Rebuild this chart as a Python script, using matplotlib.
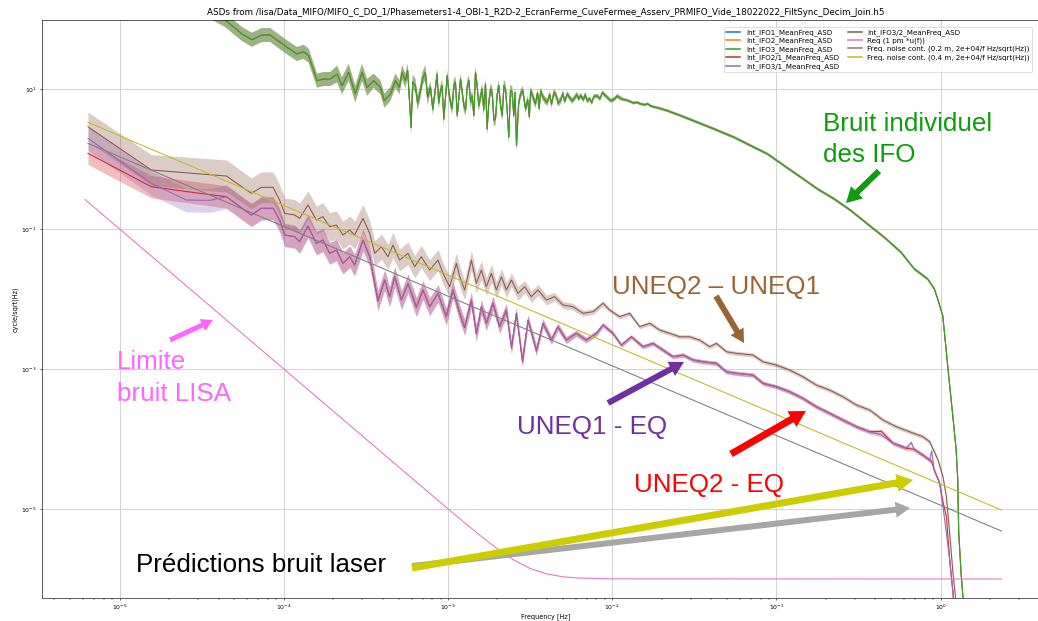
import numpy as np
import matplotlib.pyplot as plt
from matplotlib.patches import FancyArrow
from matplotlib.transforms import IdentityTransform
from matplotlib.ticker import NullLocator

W, H, DPI = 1038, 621, 55

title = ("ASDs from /lisa/Data_MIFO/MIFO_C_DO_1/Phasemeters1-4_OBI-1_R2D-2_EcranFerme_"
         "CuveFermee_Asserv_PRMIFO_Vide_18022022_FiltSync_Decim_Join.h5")

# (log10 f [Hz], log10 ASD [cycle/sqrt(Hz)], band half width [decades])
ifo3 = [
    (-5.193, 3.10, 0.10), (-4.807, 2.55, 0.10), (-4.360, 1.99, 0.10), (-4.255, 1.786, 0.10),
    (-4.195, 1.704, 0.10), (-4.134, 1.771, 0.10), (-4.083, 1.771, 0.10), (-3.981, 1.596, 0.10),
    (-3.920, 1.500, 0.10), (-3.880, 1.533, 0.10), (-3.849, 1.476, 0.10), (-3.798, 1.119, 0.10),
    (-3.758, 1.143, 0.10), (-3.717, 1.143, 0.10), (-3.676, 1.214, 0.12), (-3.646, 1.047, 0.12),
    (-3.605, 1.238, 0.12), (-3.565, 0.929, 0.12), (-3.524, 1.238, 0.12), (-3.493, 1.024, 0.12),
    (-3.453, 1.119, 0.10), (-3.412, 1.024, 0.10), (-3.388, 0.833, 0.10), (-3.351, 0.929, 0.10),
    (-3.321, 1.119, 0.10), (-3.296, 1.024, 0.10), (-3.280, 1.238, 0.10), (-3.260, 1.119, 0.10),
    (-3.246, 1.262, 0.10), (-3.225, 0.453, 0.10), (-3.199, 1.047, 0.10), (-3.168, 0.976, 0.10),
    (-3.138, 1.238, 0.10), (-3.107, 1.024, 0.08), (-3.093, 0.714, 0.08), (-3.067, 1.214, 0.08),
    (-3.046, 0.976, 0.08), (-3.026, 0.571, 0.08), (-3.005, 1.190, 0.08), (-2.985, 0.810, 0.08),
    (-2.965, 1.047, 0.08), (-2.944, 0.619, 0.08), (-2.924, 1.143, 0.08), (-2.904, 0.761, 0.08),
    (-2.883, 1.047, 0.08), (-2.863, 0.810, 0.08), (-2.833, 1.238, 0.08), (-2.813, 0.761, 0.08),
    (-2.792, 1.000, 0.08), (-2.762, 0.429, 0.08), (-2.741, 1.000, 0.08), (-2.711, 0.571, 0.08),
    (-2.691, 1.047, 0.08), (-2.670, 0.619, 0.08), (-2.650, 1.000, 0.08), (-2.630, 0.310, 0.08),
    (-2.609, 0.953, 0.08), (-2.583, 0.190, 0.08), (-2.558, 0.929, 0.06), (-2.528, 0.714, 0.06),
    (-2.497, 0.976, 0.06), (-2.467, 0.786, 0.06), (-2.436, 0.976, 0.05), (-2.396, 0.810, 0.05),
    (-2.355, 0.953, 0.05), (-2.315, 0.833, 0.05), (-2.274, 0.929, 0.04), (-2.234, 0.857, 0.04),
    (-2.193, 0.904, 0.04), (-2.152, 0.833, 0.04), (-2.112, 0.896, 0.03), (-2.051, 0.929, 0.03),
    (-2.010, 0.833, 0.03), (-1.949, 0.867, 0.03), (-1.888, 0.819, 0.02), (-1.827, 0.786, 0.02),
    (-1.766, 0.757, 0.02), (-1.664, 0.690, 0.02), (-1.583, 0.619, 0.02), (-1.481, 0.524, 0.02),
    (-1.380, 0.429, 0.02), (-1.258, 0.310, 0.02), (-1.156, 0.190, 0.02), (-1.054, 0.071, 0.02),
    (-0.953, -0.095, 0.02), (-0.851, -0.261, 0.02), (-0.749, -0.429, 0.02), (-0.648, -0.571, 0.02),
    (-0.546, -0.738, 0.02), (-0.445, -0.929, 0.02), (-0.343, -1.119, 0.02), (-0.241, -1.333, 0.02),
    (-0.160, -1.571, 0.02), (-0.079, -1.714, 0.02), (-0.038, -1.857, 0.02), (-0.018, -2.000, 0.02),
    (0.013, -2.238, 0.02), (0.033, -2.714, 0.02), (0.053, -3.190, 0.02), (0.074, -3.667, 0.02),
    (0.094, -4.143, 0.02), (0.104, -4.571, 0.02), (0.110, -5.330, 0.02), (0.124, -5.900, 0.02),
    (0.137, -6.290, 0.02), (0.160, -7.000, 0.02),
]
# the finer spikes of the IFO3 trace between 6e-4 Hz and 2e-2 Hz
ifo3_spikes = [
    (-3.215, 1.10, 0.10), (-3.185, 0.80, 0.10), (-3.155, 1.15, 0.10), (-3.125, 0.88, 0.10),
    (-3.080, 0.95, 0.08), (-3.057, 0.80, 0.08), (-3.036, 1.05, 0.08), (-3.015, 0.90, 0.08),
    (-2.995, 0.95, 0.08), (-2.975, 0.72, 0.08), (-2.955, 1.10, 0.08), (-2.935, 0.85, 0.08),
    (-2.915, 0.98, 0.08), (-2.893, 0.70, 0.08), (-2.873, 1.12, 0.08), (-2.853, 0.90, 0.08),
    (-2.843, 0.62, 0.08), (-2.823, 1.05, 0.08), (-2.803, 0.88, 0.08), (-2.783, 0.70, 0.08),
    (-2.772, 1.08, 0.08), (-2.752, 0.80, 0.08), (-2.731, 0.95, 0.08), (-2.721, 0.55, 0.08),
    (-2.701, 0.92, 0.08), (-2.681, 0.78, 0.08), (-2.660, 1.05, 0.08), (-2.640, 0.70, 0.08),
    (-2.620, 0.98, 0.08), (-2.600, 0.62, 0.08), (-2.592, 0.95, 0.08), (-2.570, 0.80, 0.07),
    (-2.545, 0.98, 0.06), (-2.515, 0.85, 0.06), (-2.505, 0.60, 0.06), (-2.485, 0.90, 0.06),
    (-2.455, 0.95, 0.05), (-2.445, 0.72, 0.05), (-2.425, 0.90, 0.05), (-2.410, 0.84, 0.05),
    (-2.380, 0.92, 0.05), (-2.370, 0.78, 0.05), (-2.340, 0.90, 0.05), (-2.330, 0.80, 0.05),
    (-2.300, 0.94, 0.04), (-2.290, 0.82, 0.04), (-2.260, 0.88, 0.04), (-2.245, 0.83, 0.04),
    (-2.215, 0.92, 0.04), (-2.205, 0.86, 0.04), (-2.175, 0.85, 0.04), (-2.165, 0.92, 0.04),
    (-2.135, 0.86, 0.03), (-2.125, 0.80, 0.03), (-2.090, 0.90, 0.03), (-2.075, 0.86, 0.03),
    (-2.060, 0.95, 0.03), (-2.030, 0.88, 0.03), (-1.990, 0.85, 0.03), (-1.970, 0.90, 0.03),
    (-1.930, 0.85, 0.02), (-1.910, 0.84, 0.02), (-1.870, 0.80, 0.02), (-1.850, 0.81, 0.02),
    (-1.800, 0.775, 0.02), (-1.785, 0.79, 0.02), (-1.740, 0.74, 0.02), (-1.720, 0.73, 0.02),
]
# IFO1 and IFO2 lie right under IFO3 on the plot
ifo1 = ifo3 + ifo3_spikes
ifo2 = ifo3 + ifo3_spikes
ifo3 = ifo3 + ifo3_spikes

ifo21 = [
    (-5.193, 0.081, 0.16), (-4.807, -0.396, 0.16), (-4.513, -0.490, 0.16), (-4.350, -0.539, 0.16),
    (-4.198, -0.800, 0.16), (-4.137, -0.704, 0.16), (-4.066, -0.704, 0.16), (-4.026, -0.871, 0.16),
    (-3.995, -1.086, 0.16), (-3.934, -1.110, 0.16), (-3.904, -1.181, 0.16), (-3.853, -0.957, 0.16),
    (-3.802, -1.204, 0.16), (-3.762, -1.157, 0.16), (-3.721, -1.347, 0.15), (-3.680, -1.300, 0.15),
    (-3.640, -1.490, 0.15), (-3.599, -1.396, 0.15), (-3.569, -1.514, 0.15), (-3.518, -1.157, 0.15),
    (-3.477, -1.396, 0.14), (-3.427, -2.030, 0.14), (-3.386, -1.729, 0.14), (-3.356, -1.967, 0.14),
    (-3.325, -1.681, 0.14), (-3.284, -2.014, 0.13), (-3.244, -1.776, 0.13), (-3.193, -2.120, 0.13),
    (-3.153, -1.871, 0.13), (-3.112, -2.110, 0.12), (-3.061, -1.919, 0.12), (-3.011, -2.253, 0.12),
    (-2.970, -1.871, 0.11), (-2.929, -2.204, 0.11), (-2.899, -2.410, 0.11), (-2.858, -2.014, 0.11),
    (-2.828, -2.500, 0.11), (-2.797, -2.110, 0.10), (-2.767, -2.347, 0.10), (-2.726, -2.061, 0.10),
    (-2.686, -2.396, 0.09), (-2.645, -2.157, 0.09), (-2.614, -2.700, 0.09), (-2.584, -2.204, 0.08),
    (-2.547, -2.900, 0.08), (-2.513, -2.300, 0.07), (-2.462, -2.740, 0.07), (-2.422, -2.347, 0.06),
    (-2.371, -2.586, 0.06), (-2.331, -2.396, 0.05), (-2.280, -2.586, 0.05), (-2.219, -2.490, 0.04),
    (-2.158, -2.586, 0.04), (-2.097, -2.490, 0.04), (-2.056, -2.371, 0.03), (-1.996, -2.490, 0.03),
    (-1.945, -2.657, 0.03), (-1.884, -2.539, 0.03), (-1.813, -2.681, 0.03), (-1.752, -2.633, 0.03),
    (-1.691, -2.729, 0.03), (-1.630, -2.824, 0.03), (-1.569, -2.800, 0.03), (-1.508, -2.871, 0.03),
    (-1.447, -2.896, 0.03), (-1.366, -2.919, 0.03), (-1.305, -3.039, 0.03), (-1.245, -3.061, 0.03),
    (-1.143, -3.086, 0.03), (-1.082, -3.204, 0.03), (-1.001, -3.253, 0.03), (-0.920, -3.324, 0.03),
    (-0.839, -3.419, 0.03), (-0.757, -3.539, 0.03), (-0.676, -3.633, 0.03), (-0.595, -3.729, 0.03),
    (-0.513, -3.824, 0.03), (-0.432, -3.896, 0.03), (-0.361, -3.890, 0.03), (-0.290, -4.060, 0.03),
    (-0.210, -4.130, 0.03), (-0.180, -4.140, 0.03), (-0.160, -4.150, 0.03), (-0.108, -4.230, 0.03),
    (-0.067, -4.300, 0.03), (-0.055, -4.320, 0.03), (-0.040, -4.440, 0.03), (-0.006, -4.633, 0.03),
    (0.014, -4.900, 0.03), (0.035, -5.110, 0.03), (0.055, -5.729, 0.03), (0.075, -6.200, 0.03),
    (0.100, -7.000, 0.03),
]

ifo31 = [
    (-5.193, 0.296, 0.17), (-4.807, -0.347, 0.17), (-4.594, -0.586, 0.17), (-4.450, -0.590, 0.17),
    (-4.350, -0.539, 0.17), (-4.198, -0.800, 0.17), (-4.137, -0.704, 0.17), (-4.066, -0.704, 0.17),
    (-4.026, -0.871, 0.17), (-3.995, -1.086, 0.17), (-3.934, -1.110, 0.17), (-3.904, -1.181, 0.17),
    (-3.853, -0.957, 0.17), (-3.802, -1.204, 0.17), (-3.762, -1.157, 0.17), (-3.721, -1.347, 0.16),
    (-3.680, -1.300, 0.16), (-3.640, -1.490, 0.16), (-3.599, -1.396, 0.16), (-3.569, -1.514, 0.16),
    (-3.518, -1.157, 0.16), (-3.477, -1.396, 0.15), (-3.427, -2.014, 0.15), (-3.386, -1.729, 0.15),
    (-3.356, -1.967, 0.15), (-3.325, -1.681, 0.15), (-3.284, -2.014, 0.14), (-3.244, -1.776, 0.14),
    (-3.193, -2.110, 0.14), (-3.153, -1.871, 0.14), (-3.112, -2.110, 0.13), (-3.061, -1.919, 0.13),
    (-3.011, -2.253, 0.13), (-2.970, -1.871, 0.12), (-2.929, -2.204, 0.12), (-2.899, -2.396, 0.12),
    (-2.858, -2.014, 0.12), (-2.828, -2.490, 0.12), (-2.797, -2.110, 0.11), (-2.767, -2.347, 0.11),
    (-2.726, -2.061, 0.11), (-2.686, -2.396, 0.10), (-2.645, -2.157, 0.10), (-2.614, -2.681, 0.10),
    (-2.584, -2.204, 0.09), (-2.547, -2.871, 0.09), (-2.513, -2.300, 0.08), (-2.462, -2.729, 0.08),
    (-2.422, -2.347, 0.07), (-2.371, -2.586, 0.06), (-2.331, -2.396, 0.06), (-2.280, -2.586, 0.05),
    (-2.219, -2.490, 0.05), (-2.158, -2.586, 0.04), (-2.097, -2.490, 0.04), (-2.056, -2.371, 0.04),
    (-1.996, -2.490, 0.03), (-1.945, -2.657, 0.03), (-1.884, -2.539, 0.03), (-1.813, -2.681, 0.03),
    (-1.752, -2.633, 0.03), (-1.691, -2.729, 0.03), (-1.630, -2.824, 0.03), (-1.569, -2.800, 0.03),
    (-1.508, -2.871, 0.03), (-1.447, -2.896, 0.03), (-1.366, -2.919, 0.03), (-1.305, -3.039, 0.03),
    (-1.245, -3.061, 0.03), (-1.143, -3.086, 0.03), (-1.082, -3.204, 0.03), (-1.001, -3.253, 0.03),
    (-0.920, -3.324, 0.03), (-0.839, -3.419, 0.03), (-0.757, -3.539, 0.03), (-0.676, -3.633, 0.03),
    (-0.595, -3.729, 0.03), (-0.513, -3.824, 0.03), (-0.432, -3.896, 0.03), (-0.361, -3.943, 0.03),
    (-0.290, -4.060, 0.03), (-0.210, -4.130, 0.03), (-0.180, -4.050, 0.03), (-0.160, -4.150, 0.03),
    (-0.108, -4.230, 0.03), (-0.067, -4.300, 0.03), (-0.055, -4.170, 0.03), (-0.040, -4.440, 0.03),
    (-0.006, -4.633, 0.03), (0.014, -4.967, 0.03), (0.035, -5.347, 0.03), (0.055, -5.729, 0.03),
    (0.075, -6.200, 0.03), (0.100, -7.000, 0.03),
]

ifo32 = [
    (-5.193, 0.461, 0.21), (-4.807, -0.157, 0.22), (-4.350, -0.243, 0.23), (-4.198, -0.490, 0.22),
    (-4.137, -0.404, 0.22), (-4.066, -0.404, 0.22), (-4.026, -0.586, 0.22), (-3.995, -0.776, 0.22),
    (-3.934, -0.800, 0.22), (-3.904, -0.847, 0.22), (-3.853, -0.657, 0.20), (-3.802, -0.871, 0.20),
    (-3.762, -0.824, 0.20), (-3.721, -0.967, 0.20), (-3.680, -0.943, 0.20), (-3.640, -1.086, 0.20),
    (-3.599, -1.014, 0.20), (-3.569, -1.086, 0.20), (-3.518, -0.847, 0.20), (-3.477, -1.061, 0.18),
    (-3.447, -1.347, 0.18), (-3.406, -1.253, 0.18), (-3.366, -1.396, 0.18), (-3.336, -1.229, 0.18),
    (-3.295, -1.443, 0.16), (-3.244, -1.347, 0.16), (-3.203, -1.539, 0.16), (-3.163, -1.396, 0.16),
    (-3.112, -1.586, 0.15), (-3.061, -1.443, 0.15), (-3.031, -1.633, 0.15), (-2.990, -1.824, 0.15),
    (-2.949, -1.490, 0.15), (-2.929, -1.681, 0.15), (-2.899, -1.871, 0.14), (-2.858, -1.443, 0.14),
    (-2.828, -1.776, 0.14), (-2.797, -1.586, 0.13), (-2.767, -1.824, 0.13), (-2.736, -1.633, 0.13),
    (-2.706, -1.871, 0.12), (-2.675, -1.681, 0.12), (-2.645, -1.871, 0.11), (-2.614, -1.729, 0.10),
    (-2.574, -1.919, 0.10), (-2.533, -1.824, 0.09), (-2.493, -1.967, 0.08), (-2.452, -1.871, 0.08),
    (-2.401, -2.014, 0.07), (-2.351, -1.967, 0.06), (-2.300, -2.086, 0.05), (-2.239, -2.110, 0.05),
    (-2.178, -2.204, 0.04), (-2.117, -2.181, 0.04), (-2.056, -2.061, 0.04), (-2.016, -2.157, 0.03),
    (-1.955, -2.253, 0.03), (-1.894, -2.204, 0.03), (-1.833, -2.396, 0.03), (-1.772, -2.347, 0.03),
    (-1.711, -2.443, 0.03), (-1.650, -2.490, 0.03), (-1.589, -2.539, 0.03), (-1.529, -2.539, 0.03),
    (-1.468, -2.586, 0.03), (-1.407, -2.681, 0.03), (-1.366, -2.633, 0.03), (-1.305, -2.753, 0.03),
    (-1.245, -2.776, 0.03), (-1.143, -2.800, 0.03), (-1.082, -2.896, 0.03), (-1.001, -2.943, 0.03),
    (-0.920, -3.014, 0.03), (-0.839, -3.110, 0.03), (-0.757, -3.229, 0.03), (-0.676, -3.300, 0.03),
    (-0.595, -3.396, 0.03), (-0.513, -3.514, 0.03), (-0.432, -3.586, 0.03), (-0.351, -3.729, 0.03),
    (-0.270, -3.824, 0.03), (-0.189, -3.896, 0.03), (-0.108, -3.967, 0.03), (-0.067, -4.039, 0.03),
    (-0.016, -4.300, 0.03), (0.014, -4.539, 0.03), (0.035, -4.824, 0.03), (0.055, -5.347, 0.03),
    (0.075, -5.919, 0.03), (0.092, -6.300, 0.03), (0.120, -7.000, 0.03),
]

# requirement and laser frequency noise predictions: (log10 f, log10 ASD)
req = [(-5.211, -0.578), (-4.0, -3.0), (-3.2, -4.6), (-3.0, -4.998), (-2.9, -5.195),
       (-2.8, -5.387), (-2.7, -5.568), (-2.6, -5.728), (-2.5, -5.849), (-2.4, -5.927),
       (-2.3, -5.968), (-2.2, -5.987), (-2.0, -5.997), (0.372, -6.0)]
laser_02m = [(-5.193, 0.224), (0.370, -5.314)]
laser_04m = [(-5.193, 0.524), (0.370, -5.014)]

measured = [
    ("Int_IFO1_MeanFreq_ASD", ifo1, "C0"),
    ("Int_IFO2_MeanFreq_ASD", ifo2, "C1"),
    ("Int_IFO3_MeanFreq_ASD", ifo3, "C2"),
    ("Int_IFO2/1_MeanFreq_ASD", ifo21, "C3"),
    ("Int_IFO3/1_MeanFreq_ASD", ifo31, "C4"),
    ("Int_IFO3/2_MeanFreq_ASD", ifo32, "C5"),
]
models = [
    ("Req (1 pm *u(f))", req, "C6"),
    ("Freq. noise cont. (0.2 m, 2e+04/f Hz/sqrt(Hz))", laser_02m, "C7"),
    ("Freq. noise cont. (0.4 m, 2e+04/f Hz/sqrt(Hz))", laser_04m, "C8"),
]

fig = plt.figure(figsize=(W / DPI, H / DPI), dpi=DPI)
# the axes run a little past the right border, as in the screenshot
ax = fig.add_axes([42 / W, 1 - 598 / H, (1050 - 42) / W, (598 - 20) / H])

for label, data, col in measured:
    lf, lv, sp = np.array(sorted(data)).T
    f = 10 ** lf
    ax.plot(f, 10 ** lv, color=col, lw=1.4, label=label)
    ax.fill_between(f, 10 ** (lv - sp), 10 ** (lv + sp), color=col, alpha=0.3, lw=0)
for label, data, col in models:
    lf, lv = np.array(data).T
    ax.plot(10 ** lf, 10 ** lv, color=col, lw=1.4, label=label)

ax.set_xscale("log")
ax.set_yscale("log")
ax.set_xlim(10 ** -5.473, 10 ** 0.666)
ax.set_ylim(10 ** -6.271, 10 ** 1.986)
ax.set_xticks([1e-5, 1e-4, 1e-3, 1e-2, 1e-1, 1e0])
ax.set_yticks([1e-5, 1e-3, 1e-1, 1e1])
ax.yaxis.set_minor_locator(NullLocator())
ax.tick_params(labelsize=8, length=3)
ax.tick_params(which="minor", length=2)
ax.grid(True, which="major", color="#c8c8c8", lw=1.0)
ax.set_axisbelow(True)
ax.set_xlabel("Frequency [Hz]", fontsize=8.5, labelpad=1)
ax.set_ylabel("cycle/sqrt(Hz)", fontsize=8.5)
ax.set_title(title, fontsize=11.5, pad=7)
leg = ax.legend(ncol=2, loc="upper left", bbox_to_anchor=(720 / W, 1 - 23 / H),
                bbox_transform=fig.transFigure, fontsize=9.3, labelspacing=0.25,
                columnspacing=1.2, handlelength=2.0, borderpad=0.35)
for line in leg.get_lines():
    line.set_linewidth(2.0)


def block_arrow(x0, y0, x1, y1, color, shaft, head):
    # pixel positions counted from the top left of the image
    arr = FancyArrow(x0, H - y0, x1 - x0, y0 - y1, width=shaft, head_width=head,
                     head_length=head * 0.9, length_includes_head=True,
                     color=color, lw=0, transform=IdentityTransform())
    fig.add_artist(arr)


def note(x, y, s, color):
    fig.text(x / W, 1 - y / H, s, color=color, fontsize=34, family="Liberation Sans",
             ha="left", va="baseline")


note(823, 131, "Bruit individuel", "#0c9c0c")
note(823, 162, "des IFO", "#0c9c0c")
note(612, 294, "UNEQ2 \u2013 UNEQ1", "#9c6434")
note(117, 369, "Limite", "#ff66ff")
note(117, 401, "bruit LISA", "#ff66ff")
note(517, 434, "UNEQ1 - EQ", "#7030a0")
note(634, 492, "UNEQ2 - EQ", "#ff0000")
note(136, 572, "Pr\u00e9dictions bruit laser", "black")

block_arrow(879, 171, 846, 203, "#109a10", 6, 17)
block_arrow(716, 296, 744, 343, "#996633", 6, 15)
block_arrow(170, 340, 213, 320, "#ff66ff", 5, 13)
block_arrow(608, 403, 684, 362, "#7030a0", 6, 16)
block_arrow(731, 454, 806, 411, "#ff0000", 7, 18)
block_arrow(412, 566, 910, 508, "#a6a6a6", 6, 16)
block_arrow(412, 568, 913, 480, "#cccc00", 7, 18)

fig.savefig("out.png", dpi=DPI)
